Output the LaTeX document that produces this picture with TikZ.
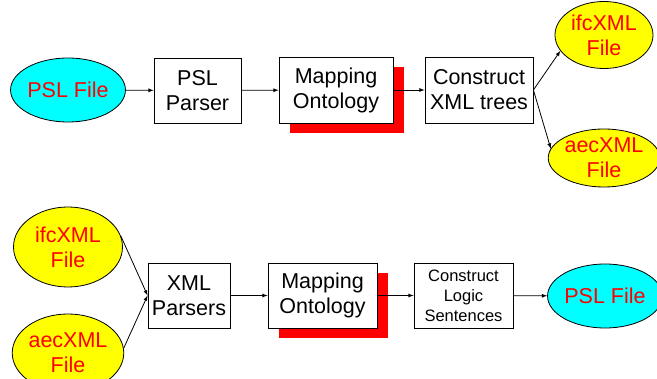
\documentclass[tikz,border=0pt]{standalone}
\usepackage{fontspec}
\setmainfont{Liberation Sans}
\usetikzlibrary{shapes,arrows,shadows,positioning}

\definecolor{pslcyan}{RGB}{0,255,255}
\definecolor{xmlyellow}{RGB}{255,255,0}
\definecolor{hotred}{RGB}{255,0,0}

\tikzset{
  procbox/.style={draw,fill=white,align=center,line width=0.8pt,
    font=\fontsize{21.5}{25}\selectfont},
  mapbox/.style={procbox,drop shadow={shadow xshift=11pt,shadow yshift=-10pt,
    fill=hotred,opacity=1}},
  filenode/.style={ellipse,draw,line width=0.8pt,text=hotred,align=center,
    font=\fontsize{21.5}{25}\selectfont},
  pslfile/.style={filenode,fill=pslcyan},
  xmlfile/.style={filenode,fill=xmlyellow},
  flow/.style={->,>=latex,line width=0.8pt}
}

\begin{document}
\begin{tikzpicture}[x=1pt,y=-1pt,inner sep=0pt]
\useasboundingbox (0,0) rectangle (657,379);

% PSL to XML
\node[pslfile,minimum width=109pt,minimum height=64pt] (pslA) at (68,90) {PSL File};
\node[procbox,minimum width=87pt,minimum height=65pt] (parseA) at (197.5,90.5) {PSL\\Parser};
\node[mapbox,minimum width=114pt,minimum height=66pt] (mapA) at (336,90) {Mapping\\Ontology};
\node[procbox,minimum width=108pt,minimum height=66pt] (treesA) at (479,90) {Construct\\XML trees};
\node[xmlfile,minimum width=98pt,minimum height=67pt] (ifcA) at (604,35) {ifcXML\\File};
\node[xmlfile,minimum width=98pt,minimum height=58pt] (aecA) at (604,158) {aecXML\\File};

\draw[flow] (pslA) -- (parseA);
\draw[flow] (parseA) -- (mapA);
\draw[flow] (mapA) -- (treesA);
\draw[flow] (treesA.east) -- (ifcA.200);
\draw[flow] (treesA.east) -- (aecA.170);

% XML to PSL
\node[xmlfile,minimum width=109pt,minimum height=80pt] (ifcB) at (68,247) {ifcXML\\File};
\node[xmlfile,minimum width=109pt,minimum height=78pt] (aecB) at (68,353) {aecXML\\File};
\node[procbox,minimum width=82pt,minimum height=65pt] (parsB) at (189,295.5) {XML\\Parsers};
\node[mapbox,minimum width=109pt,minimum height=65pt] (mapB) at (322.5,295.5) {Mapping\\Ontology};
\node[procbox,minimum width=99pt,minimum height=65pt,
  font=\fontsize{16.5}{20}\selectfont] (logicB) at (463.5,295.5) {Construct\\Logic\\Sentences};
\node[pslfile,minimum width=100pt,minimum height=64pt] (pslB) at (605,296) {PSL File};

\draw[flow] (ifcB.12) -- (parsB.west);
\draw[flow] (aecB.5) -- (parsB.west);
\draw[flow] (parsB) -- (mapB);
\draw[flow] (mapB) -- (logicB);
\draw[flow] (logicB) -- (pslB);
\end{tikzpicture}
\end{document}
